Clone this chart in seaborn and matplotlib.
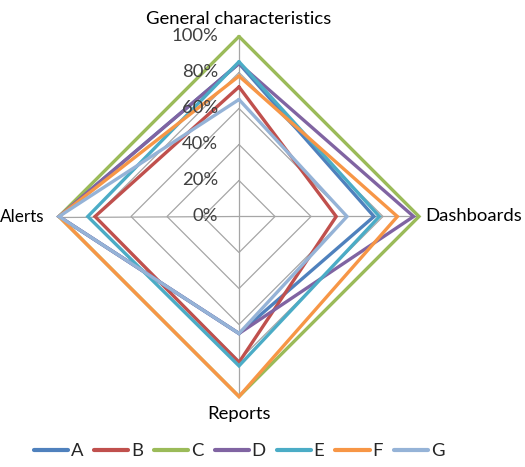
import numpy as np
import pandas as pd
import matplotlib
matplotlib.use("Agg")
import matplotlib.pyplot as plt
import seaborn as sns

categories = ["General characteristics", "Dashboards", "Reports", "Alerts"]
series_names = ["A", "B", "C", "D", "E", "F", "G"]
A = [0.85, 0.75, 0.65, 1.00]
B = [0.72, 0.54, 0.81, 0.80]
C = [1.00, 1.00, 1.00, 1.00]
D = [0.85, 0.97, 0.65, 1.00]
E = [0.86, 0.78, 0.83, 0.84]
F = [0.78, 0.88, 1.00, 1.00]
G = [0.65, 0.60, 0.65, 1.00]
grid_levels = [0.0, 0.2, 0.4, 0.6, 0.8, 1.0]
grid_labels = ["0%", "20%", "40%", "60%", "80%", "100%"]
colors = ["#4F81BD", "#C0504D", "#9BBB59", "#8064A2", "#4BACC6", "#F79646", "#95B3D7"]

sns.set_theme(style="white")
plt.rcParams["font.family"] = ["Lato", "DejaVu Sans"]

n = len(categories)
angles = [2 * np.pi * i / n for i in range(n)] + [2 * np.pi]

rows = []
for name, vals in zip(series_names, [A, B, C, D, E, F, G]):
    closed = list(vals) + [vals[0]]
    for k, (t, v) in enumerate(zip(angles, closed)):
        rows.append({"series": name, "theta": t, "r": v, "order": k})
df = pd.DataFrame(rows)

W, H = 525, 467
fig = plt.figure(figsize=(W / 100, H / 100), dpi=100)
cx, cy, R = 239, 216.5, 180
ax = fig.add_axes([(cx - R) / W, (H - cy - R) / H, 2 * R / W, 2 * R / H], projection="polar")
ax.set_theta_offset(np.pi / 2)
ax.set_theta_direction(-1)
ax.set_ylim(0, 1)
ax.grid(False)
ax.spines["polar"].set_visible(False)
ax.set_xticks([])
ax.set_yticks([])
ax.patch.set_alpha(0)

gcol = "#A6A6A6"
for lvl in grid_levels[1:]:
    ax.plot(angles, [lvl] * len(angles), color=gcol, lw=0.9, clip_on=False, zorder=1)
for t in angles[:-1]:
    ax.plot([t, t], [0, 1], color=gcol, lw=0.9, clip_on=False, zorder=1)

sns.lineplot(data=df, x="theta", y="r", hue="series", units="series", estimator=None,
             sort=False, palette=colors, linewidth=2.4, ax=ax, legend=False, zorder=3)
for ln in ax.get_lines():
    ln.set_clip_on(False)
    ln.set_solid_joinstyle("miter")
ax.set_xlabel("")
ax.set_ylabel("")
ax.set_xticks([])
ax.set_yticks([])

fs = 13.3
for lvl, lab in zip(grid_levels, grid_labels):
    ax.annotate(lab, xy=(0, lvl), xytext=(-21, 0), textcoords="offset pixels",
                ha="right", va="center", fontsize=fs, color="#404040", zorder=5)

ax.annotate(categories[0], xy=(0, 1), xytext=(0, 9), textcoords="offset pixels",
            ha="center", va="bottom", fontsize=fs, color="#000000")
ax.annotate(categories[1], xy=(np.pi / 2, 1), xytext=(6, 0), textcoords="offset pixels",
            ha="left", va="center", fontsize=fs, color="#000000")
ax.annotate(categories[2], xy=(np.pi, 1), xytext=(0, -9), textcoords="offset pixels",
            ha="center", va="top", fontsize=fs, color="#000000")
ax.annotate(categories[3], xy=(3 * np.pi / 2, 1), xytext=(-15, 0), textcoords="offset pixels",
            ha="right", va="center", fontsize=12.3, color="#000000")

handles = [plt.Line2D([0], [0], color=c, lw=3) for c in colors]
fig.legend(handles, series_names, loc="center", bbox_to_anchor=(239 / W, 1 - 451 / H),
           ncol=7, frameon=False, fontsize=fs, handlelength=1.85, handletextpad=0.15,
           columnspacing=0.6)

fig.savefig("out.png", dpi=100)
